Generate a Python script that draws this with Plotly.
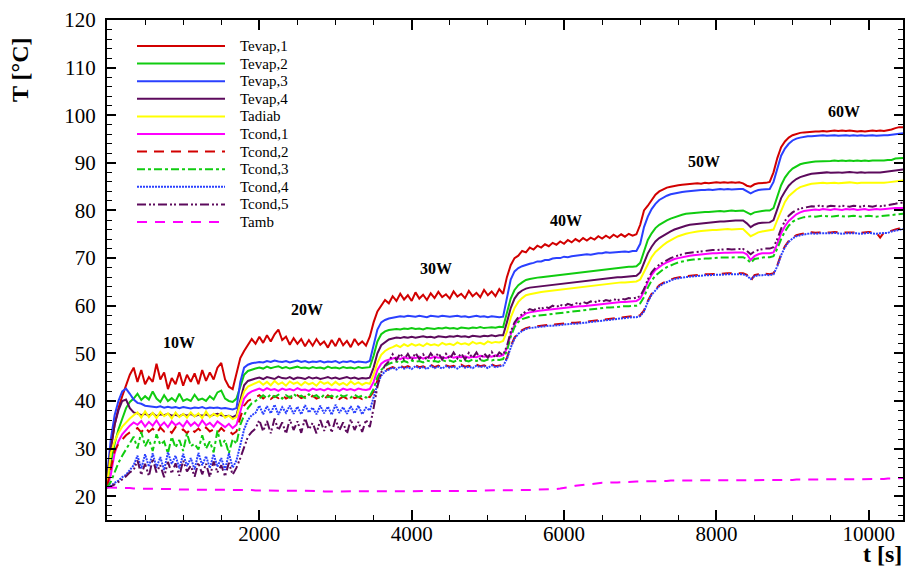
import plotly.graph_objects as go

# time grid [s]
t = list(range(0, 10500, 50))

tevap1 = [23.0, 30.0, 35.0, 38.5, 41.0, 43.5, 45.5, 47.0, 44.0, 46.5, 43.5, 45.0, 44.0, 47.8, 44.5, 46.0, 42.5, 44.8, 43.5, 46.0, 43.2, 45.5, 44.0, 45.8, 43.5, 46.5, 44.2, 46.0, 44.5, 47.0, 48.0, 44.5, 43.0, 42.5, 45.5,
          49.0, 50.5, 51.8, 53.0, 52.0, 53.5, 52.2, 53.8, 52.5, 54.0, 55.0, 52.8, 53.5, 51.8, 53.2, 52.0, 53.0, 51.5, 52.8, 51.6, 53.0, 51.8, 52.5, 51.2, 52.8, 51.5, 53.2, 51.7, 52.6, 51.3, 53.0, 51.8, 52.5, 51.6, 53.5,
          56.5, 58.8, 60.0, 61.2, 60.5, 62.0, 61.0, 62.5, 61.3, 62.2, 61.0, 62.8, 61.5, 62.3, 61.2, 62.6, 61.6, 62.9, 61.8, 62.4, 61.5, 63.0, 61.9, 62.5, 61.6, 63.1, 62.0, 62.7, 61.8, 63.3, 62.2, 63.0, 62.0, 63.5, 62.5,
          66.0, 68.5, 70.0, 70.5, 71.5, 71.2, 72.2, 71.8, 72.6, 72.2, 72.9, 72.5, 73.2, 72.8, 73.5, 73.0, 73.8, 73.3, 74.0, 73.5, 74.2, 73.7, 74.3, 73.9, 74.6, 74.1, 74.7, 74.2, 74.9, 74.4, 75.0, 74.5, 75.1, 74.7, 75.0,
          77.0, 80.0, 81.0, 82.3, 83.3, 84.0, 84.4, 84.8, 85.0, 85.2, 85.3, 85.4, 85.5, 85.5, 85.6, 85.7, 85.6, 85.8, 85.7, 85.8, 85.9, 85.8, 85.9, 85.8, 85.9, 85.8, 85.9, 85.7, 85.2, 85.0, 85.5, 85.7, 85.7, 85.8, 86.0,
          88.0, 91.0, 93.3, 94.5, 95.3, 95.8, 96.1, 96.3, 96.4, 96.5, 96.5, 96.6, 96.6, 96.7, 96.6, 96.7, 96.8, 96.7, 96.8, 96.7, 96.8, 96.7, 96.6, 96.7, 96.6, 96.7, 96.8, 96.7, 96.8, 96.7, 96.8, 97.0, 97.3, 97.5, 97.5]

tevap2 = [22.5, 27.0, 31.0, 34.0, 36.5, 38.5, 39.8, 40.5, 41.5, 40.2, 41.0, 40.3, 42.0, 40.5, 39.8, 41.2, 40.0, 40.6, 39.9, 41.5, 40.0, 40.4, 40.0, 41.3, 40.2, 40.5, 40.0, 41.0, 40.3, 41.8, 42.2, 40.5, 40.0, 39.8, 40.5,
          43.0, 45.5, 46.3, 46.6, 46.8, 47.0, 46.8, 47.2, 46.9, 47.1, 47.3, 46.9, 47.1, 46.8, 47.0, 47.2, 46.9, 47.0, 46.8, 47.1, 46.9, 47.0, 46.8, 47.2, 46.9, 47.0, 46.8, 47.1, 46.9, 47.0, 46.8, 47.1, 46.9, 47.0, 47.1,
          49.5, 52.5, 54.0, 54.6, 54.9, 55.0, 55.1, 55.0, 55.2, 55.1, 55.3, 55.1, 55.2, 55.0, 55.3, 55.2, 55.1, 55.3, 55.2, 55.4, 55.2, 55.3, 55.1, 55.4, 55.3, 55.2, 55.4, 55.3, 55.5, 55.3, 55.4, 55.5, 55.4, 55.6, 55.5,
          58.5, 61.5, 63.3, 64.3, 64.9, 65.4, 65.6, 65.8, 65.9, 66.0, 66.1, 66.2, 66.3, 66.4, 66.5, 66.6, 66.7, 66.8, 66.9, 67.0, 67.1, 67.2, 67.3, 67.4, 67.5, 67.6, 67.7, 67.8, 67.8, 67.9, 68.0, 68.1, 68.2, 68.2, 68.3,
          69.0, 71.5, 73.8, 75.2, 76.3, 77.0, 77.5, 77.9, 78.3, 78.6, 78.9, 79.1, 79.3, 79.4, 79.5, 79.6, 79.6, 79.7, 79.7, 79.8, 79.8, 79.9, 79.8, 79.9, 80.0, 79.9, 80.0, 80.0, 79.6, 79.2, 79.6, 79.8, 79.9, 80.0, 80.0,
          80.5, 83.0, 85.3, 86.9, 88.0, 88.8, 89.3, 89.7, 89.9, 90.1, 90.2, 90.3, 90.3, 90.4, 90.3, 90.4, 90.5, 90.4, 90.5, 90.4, 90.5, 90.4, 90.5, 90.4, 90.5, 90.4, 90.5, 90.5, 90.4, 90.5, 90.6, 90.6, 90.9, 91.0, 91.0]

tevap3 = [24.0, 32.0, 37.0, 40.0, 42.0, 42.6, 41.5, 40.3, 39.6, 39.4, 39.0, 38.9, 38.8, 38.7, 38.9, 38.6, 38.8, 38.6, 38.7, 38.5, 38.7, 38.6, 38.4, 38.6, 38.5, 38.7, 38.4, 38.6, 38.5, 38.6, 38.4, 38.5, 38.3, 38.2, 38.5,
          44.0, 47.0, 47.6, 47.9, 48.0, 48.2, 48.1, 48.4, 48.2, 48.5, 48.3, 48.2, 48.4, 48.1, 48.3, 48.5, 48.2, 48.4, 48.1, 48.3, 48.2, 48.4, 48.1, 48.3, 48.2, 48.4, 48.0, 48.3, 48.2, 48.4, 48.1, 48.3, 48.2, 48.1, 48.4,
          51.5, 55.0, 56.5, 57.0, 57.3, 57.5, 57.6, 57.8, 57.7, 57.9, 57.8, 57.7, 57.9, 57.8, 57.6, 57.9, 57.8, 57.7, 57.9, 57.8, 57.7, 57.8, 57.9, 57.7, 57.8, 57.6, 57.8, 57.9, 57.7, 57.8, 57.6, 57.8, 57.7, 57.6, 57.7,
          62.0, 65.5, 67.2, 67.9, 68.3, 68.6, 68.8, 69.0, 69.3, 69.3, 69.6, 69.6, 69.9, 70.0, 70.0, 70.3, 70.2, 70.4, 70.5, 70.5, 70.7, 70.8, 70.7, 70.9, 71.0, 71.0, 71.2, 71.1, 71.2, 71.3, 71.3, 71.4, 71.3, 71.5, 71.5,
          73.0, 76.5, 78.7, 80.3, 81.4, 82.2, 82.7, 83.1, 83.4, 83.6, 83.8, 83.9, 84.0, 84.1, 84.2, 84.2, 84.3, 84.3, 84.4, 84.3, 84.4, 84.5, 84.4, 84.5, 84.4, 84.5, 84.5, 84.5, 84.0, 83.6, 84.0, 84.3, 84.4, 84.4, 84.5,
          86.0, 89.0, 91.5, 93.0, 94.0, 94.7, 95.1, 95.3, 95.5, 95.6, 95.6, 95.7, 95.7, 95.8, 95.7, 95.8, 95.8, 95.7, 95.8, 95.8, 95.7, 95.8, 95.7, 95.8, 95.7, 95.8, 95.8, 95.7, 95.8, 95.8, 95.8, 95.9, 96.1, 96.2, 96.2]

tevap4 = [23.0, 30.0, 35.0, 38.0, 40.0, 40.3, 38.5, 37.6, 37.4, 37.0, 37.3, 36.9, 37.4, 36.8, 37.2, 37.0, 37.3, 36.9, 37.1, 36.8, 37.2, 36.9, 37.3, 36.8, 37.1, 36.9, 37.2, 36.8, 37.1, 37.3, 37.0, 36.8, 36.9, 36.6, 37.0,
          40.5, 43.3, 44.2, 44.5, 44.7, 44.9, 44.6, 45.0, 44.8, 44.6, 45.1, 44.8, 44.7, 45.0, 44.6, 44.9, 44.8, 44.6, 45.0, 44.7, 44.9, 44.6, 44.8, 45.0, 44.7, 44.9, 44.6, 44.8, 45.0, 44.7, 44.9, 44.6, 44.8, 44.7, 44.9,
          47.0, 50.0, 51.7, 52.4, 52.9, 53.1, 53.3, 53.2, 53.4, 53.3, 53.5, 53.3, 53.4, 53.6, 53.4, 53.5, 53.3, 53.6, 53.5, 53.4, 53.6, 53.5, 53.7, 53.5, 53.6, 53.4, 53.7, 53.6, 53.5, 53.7, 53.6, 53.8, 53.6, 53.8, 53.8,
          56.5, 59.5, 61.5, 62.6, 63.2, 63.6, 63.8, 63.9, 64.0, 64.1, 64.2, 64.3, 64.4, 64.5, 64.6, 64.7, 64.8, 64.9, 65.0, 65.1, 65.2, 65.3, 65.4, 65.5, 65.6, 65.7, 65.7, 65.8, 65.9, 66.0, 66.0, 66.1, 66.2, 66.2, 66.3,
          67.0, 69.0, 71.0, 72.4, 73.5, 74.2, 74.7, 75.2, 75.6, 76.0, 76.3, 76.6, 76.8, 77.0, 77.1, 77.2, 77.3, 77.4, 77.5, 77.5, 77.6, 77.7, 77.7, 77.8, 77.8, 77.9, 77.9, 77.9, 77.3, 76.5, 77.0, 77.3, 77.4, 77.5, 77.5,
          78.0, 80.5, 82.6, 84.0, 85.2, 86.0, 86.6, 87.0, 87.3, 87.5, 87.7, 87.8, 87.9, 87.9, 88.0, 87.9, 88.0, 88.0, 87.9, 88.0, 88.1, 88.0, 87.9, 88.0, 87.9, 88.0, 88.0, 87.9, 88.0, 88.1, 88.2, 88.3, 88.5, 88.6, 88.6]

tadiab = [22.0, 29.0, 31.5, 33.3, 34.6, 35.5, 36.3, 37.0, 37.6, 36.5, 37.8, 36.6, 37.5, 36.4, 37.7, 36.8, 37.4, 36.3, 37.6, 36.6, 37.3, 36.5, 37.6, 36.7, 37.4, 36.4, 37.8, 36.6, 37.3, 36.8, 37.5, 36.5, 36.9, 36.2, 36.6,
          39.5, 42.0, 43.0, 43.4, 43.7, 44.1, 43.4, 44.0, 43.3, 44.2, 43.5, 43.9, 43.2, 44.1, 43.6, 43.9, 43.3, 44.0, 43.5, 43.8, 43.2, 44.1, 43.6, 43.9, 43.3, 44.0, 43.4, 43.8, 43.3, 44.1, 43.5, 43.9, 43.4, 43.8, 43.6,
          45.5, 48.0, 49.7, 50.5, 51.0, 51.3, 51.7, 51.3, 51.9, 51.5, 52.0, 51.6, 51.9, 51.5, 52.1, 51.7, 51.9, 51.6, 52.2, 51.8, 52.0, 51.7, 52.3, 51.9, 52.1, 51.8, 52.4, 52.0, 52.2, 51.9, 52.5, 52.2, 52.4, 52.3, 52.6,
          54.5, 57.5, 59.5, 60.8, 61.6, 62.2, 62.4, 62.6, 62.7, 62.9, 63.0, 63.1, 63.2, 63.3, 63.4, 63.5, 63.6, 63.7, 63.8, 63.9, 64.0, 64.1, 64.2, 64.3, 64.4, 64.5, 64.6, 64.6, 64.7, 64.8, 64.9, 64.9, 65.0, 65.1, 65.1,
          65.5, 67.0, 68.8, 70.2, 71.3, 72.1, 72.7, 73.3, 73.8, 74.2, 74.6, 74.9, 75.1, 75.3, 75.5, 75.6, 75.7, 75.8, 75.8, 75.9, 75.9, 76.0, 76.0, 76.1, 76.0, 76.1, 76.1, 76.1, 75.3, 74.6, 75.0, 75.4, 75.6, 75.7, 75.8,
          76.0, 78.0, 80.0, 81.8, 83.0, 83.8, 84.4, 84.9, 85.2, 85.4, 85.6, 85.7, 85.7, 85.8, 85.7, 85.8, 85.8, 85.7, 85.8, 85.8, 85.9, 85.8, 85.7, 85.8, 85.8, 85.7, 85.8, 85.8, 85.7, 85.8, 85.9, 86.0, 86.2, 86.3, 86.3]

tcond1 = [21.8, 24.5, 29.0, 31.5, 33.0, 34.0, 34.8, 35.5, 35.0, 35.8, 34.6, 35.6, 34.8, 35.9, 34.7, 35.5, 34.5, 35.7, 34.9, 35.4, 34.6, 35.8, 34.8, 35.5, 34.7, 35.9, 34.9, 35.4, 34.6, 35.7, 35.0, 34.5, 35.2, 34.3, 35.0,
          38.0, 40.5, 41.5, 42.0, 42.3, 42.6, 42.2, 42.7, 42.3, 42.5, 42.1, 42.6, 42.3, 42.5, 42.2, 42.7, 42.3, 42.4, 42.1, 42.6, 42.3, 42.5, 42.2, 42.6, 42.3, 42.4, 42.1, 42.6, 42.3, 42.5, 42.2, 42.6, 42.4, 42.3, 42.5,
          44.0, 46.5, 47.8, 48.4, 48.7, 48.9, 49.1, 48.8, 49.2, 48.9, 49.1, 49.0, 49.3, 48.9, 49.2, 49.0, 49.3, 49.1, 49.2, 49.0, 49.4, 49.1, 49.3, 49.2, 49.4, 49.1, 49.3, 49.2, 49.5, 49.3, 49.4, 49.3, 49.6, 49.4, 49.6,
          51.0, 54.0, 56.0, 57.2, 57.9, 58.4, 58.6, 58.8, 58.9, 59.0, 59.1, 59.2, 59.3, 59.3, 59.4, 59.5, 59.6, 59.7, 59.8, 59.9, 59.9, 60.0, 60.1, 60.2, 60.3, 60.4, 60.5, 60.5, 60.6, 60.7, 60.8, 60.8, 60.9, 61.0, 61.0,
          61.5, 63.0, 65.0, 66.5, 67.5, 68.2, 68.7, 69.1, 69.5, 69.8, 70.0, 70.2, 70.4, 70.5, 70.6, 70.7, 70.8, 70.8, 70.9, 71.0, 71.0, 71.1, 71.1, 71.1, 71.2, 71.2, 71.2, 71.2, 70.8, 69.6, 70.4, 70.8, 71.0, 71.0, 71.0,
          71.2, 73.0, 75.2, 76.7, 77.8, 78.6, 79.2, 79.6, 79.9, 80.0, 80.1, 80.2, 80.1, 80.3, 80.2, 80.1, 80.3, 80.2, 80.1, 80.3, 80.2, 80.3, 80.1, 80.2, 80.3, 80.1, 80.2, 80.3, 80.2, 80.3, 80.3, 80.4, 80.5, 80.5, 80.5]

tcond2 = [22.0, 26.0, 29.5, 31.0, 32.0, 32.8, 33.4, 33.8, 34.3, 33.4, 34.5, 33.5, 34.2, 33.2, 34.4, 33.6, 34.1, 33.3, 34.5, 33.7, 34.0, 33.2, 34.3, 33.5, 34.2, 33.4, 34.4, 33.6, 34.0, 33.3, 34.3, 33.5, 33.8, 33.0, 33.6,
          36.5, 39.0, 40.0, 40.4, 40.8, 41.2, 40.5, 41.1, 40.4, 41.0, 40.6, 41.3, 40.5, 40.9, 40.3, 41.2, 40.6, 40.9, 40.4, 41.1, 40.5, 40.8, 40.3, 41.2, 40.6, 41.0, 40.4, 40.9, 40.5, 41.1, 40.6, 40.8, 40.4, 41.0, 40.8,
          42.0, 44.3, 45.7, 46.4, 46.8, 47.1, 46.8, 47.4, 47.0, 47.3, 46.9, 47.5, 47.1, 47.3, 46.9, 47.6, 47.1, 47.4, 47.0, 47.5, 47.2, 47.4, 47.0, 47.6, 47.2, 47.4, 47.1, 47.6, 47.3, 47.5, 47.1, 47.7, 47.3, 47.5, 47.6,
          49.0, 51.5, 53.3, 54.3, 54.9, 55.3, 55.5, 55.6, 55.8, 55.8, 55.9, 56.0, 56.0, 56.1, 56.2, 56.2, 56.3, 56.4, 56.4, 56.5, 56.6, 56.7, 56.8, 56.9, 57.0, 57.1, 57.2, 57.3, 57.4, 57.5, 57.5, 57.6, 57.7, 57.8, 57.8,
          58.0, 59.0, 61.0, 62.5, 63.5, 64.3, 64.8, 65.2, 65.5, 65.8, 66.0, 66.1, 66.2, 66.3, 66.4, 66.5, 66.5, 66.6, 66.6, 66.7, 66.7, 66.7, 66.8, 66.8, 66.8, 66.8, 66.9, 66.8, 66.5, 65.2, 66.4, 66.6, 66.6, 66.7, 66.6,
          66.8, 68.5, 70.8, 72.5, 73.6, 74.3, 74.8, 75.0, 75.2, 75.3, 75.4, 75.3, 75.4, 75.4, 75.3, 75.4, 75.5, 75.4, 75.3, 75.4, 75.4, 75.5, 75.4, 75.3, 75.4, 75.5, 75.4, 75.3, 74.3, 75.4, 75.5, 75.8, 76.0, 76.2, 76.3]

tcond3 = [21.8, 23.0, 25.0, 27.0, 28.5, 29.8, 31.0, 32.5, 30.0, 33.5, 30.5, 32.0, 29.5, 33.0, 30.8, 31.5, 29.0, 32.5, 30.2, 31.8, 29.5, 33.2, 30.5, 31.0, 29.8, 32.8, 30.0, 31.5, 29.2, 33.8, 30.5, 31.8, 29.0, 32.0, 31.0,
          35.0, 37.0, 38.5, 39.5, 40.0, 40.5, 41.2, 40.6, 41.4, 40.8, 41.3, 40.5, 41.2, 40.7, 41.5, 40.8, 41.1, 40.6, 41.4, 40.9, 41.2, 40.5, 41.3, 40.8, 41.1, 40.6, 41.4, 40.9, 41.2, 40.7, 41.3, 40.8, 41.1, 40.7, 41.0,
          42.5, 45.0, 46.5, 47.3, 47.8, 48.1, 48.3, 48.0, 48.4, 48.1, 48.5, 48.2, 48.4, 48.1, 48.5, 48.3, 48.4, 48.2, 48.6, 48.3, 48.5, 48.2, 48.6, 48.4, 48.5, 48.3, 48.7, 48.4, 48.6, 48.4, 48.7, 48.5, 48.7, 48.6, 48.8,
          50.5, 53.5, 55.5, 56.6, 57.2, 57.5, 57.7, 57.8, 57.9, 58.0, 58.1, 58.2, 58.3, 58.4, 58.5, 58.6, 58.7, 58.8, 58.9, 59.0, 59.1, 59.2, 59.3, 59.4, 59.4, 59.5, 59.6, 59.6, 59.7, 59.8, 59.8, 59.9, 59.9, 60.0, 60.0,
          60.5, 61.8, 63.8, 65.3, 66.3, 67.0, 67.6, 68.1, 68.5, 68.8, 69.1, 69.3, 69.5, 69.6, 69.7, 69.8, 69.8, 69.9, 69.9, 70.0, 70.0, 70.1, 70.1, 70.1, 70.2, 70.2, 70.2, 70.2, 69.8, 69.0, 69.8, 70.0, 70.1, 70.2, 70.2,
          70.4, 72.0, 74.0, 75.6, 76.8, 77.6, 78.1, 78.4, 78.6, 78.7, 78.8, 78.7, 78.8, 78.9, 78.8, 78.7, 78.8, 78.9, 78.8, 78.7, 78.8, 78.9, 78.8, 78.7, 78.8, 78.9, 78.8, 78.7, 78.8, 78.9, 78.9, 79.0, 79.2, 79.3, 79.3]

tcond4 = [21.8, 22.2, 22.8, 23.3, 24.0, 24.5, 25.5, 26.5, 28.5, 25.8, 28.8, 26.2, 29.0, 26.0, 28.2, 25.5, 29.2, 26.8, 28.5, 25.8, 28.9, 26.3, 28.0, 25.6, 29.1, 26.5, 28.4, 25.9, 28.8, 26.2, 28.0, 25.5, 29.0, 26.0, 27.5,
          31.0, 34.0, 36.0, 37.0, 37.5, 39.0, 37.2, 38.9, 37.4, 39.2, 37.1, 38.7, 37.5, 39.0, 37.3, 38.8, 37.2, 39.1, 37.6, 38.6, 37.2, 39.0, 37.4, 38.8, 37.1, 39.2, 37.5, 38.7, 37.3, 38.9, 37.4, 39.0, 37.2, 38.6, 38.0,
          40.5, 43.5, 45.3, 46.2, 46.6, 47.0, 46.6, 47.2, 46.8, 47.1, 46.7, 47.3, 46.9, 47.1, 46.7, 47.4, 46.9, 47.2, 46.8, 47.3, 47.0, 47.2, 46.8, 47.4, 47.0, 47.2, 46.9, 47.4, 47.1, 47.3, 46.9, 47.5, 47.1, 47.3, 47.4,
          48.8, 51.2, 53.1, 54.1, 54.7, 55.1, 55.3, 55.4, 55.6, 55.6, 55.7, 55.8, 55.8, 55.9, 56.0, 56.0, 56.1, 56.2, 56.2, 56.3, 56.4, 56.5, 56.6, 56.7, 56.8, 56.9, 57.0, 57.1, 57.2, 57.3, 57.3, 57.4, 57.5, 57.6, 57.6,
          57.8, 58.8, 60.8, 62.3, 63.3, 64.1, 64.6, 65.0, 65.3, 65.6, 65.8, 65.9, 66.0, 66.1, 66.2, 66.3, 66.3, 66.4, 66.4, 66.5, 66.5, 66.5, 66.6, 66.6, 66.6, 66.6, 66.7, 66.6, 66.3, 65.6, 66.2, 66.4, 66.4, 66.5, 66.4,
          66.6, 68.3, 70.6, 72.3, 73.4, 74.1, 74.6, 74.8, 75.0, 75.1, 75.2, 75.1, 75.2, 75.2, 75.1, 75.2, 75.3, 75.2, 75.1, 75.2, 75.2, 75.3, 75.2, 75.1, 75.2, 75.3, 75.2, 75.1, 75.2, 75.2, 75.3, 75.6, 75.8, 76.0, 76.1]

tcond5 = [21.8, 22.0, 22.5, 23.0, 23.5, 24.2, 25.0, 25.5, 27.5, 24.5, 26.8, 24.2, 27.8, 25.0, 26.5, 24.0, 27.2, 24.8, 26.9, 24.3, 27.5, 25.2, 26.4, 24.1, 27.0, 24.6, 26.8, 24.0, 27.3, 25.0, 26.5, 24.2, 27.0, 24.5, 26.0,
          28.0, 30.5, 32.5, 33.5, 34.2, 36.0, 33.6, 35.8, 33.2, 36.3, 33.8, 35.5, 33.1, 36.1, 33.9, 35.7, 33.3, 36.4, 34.0, 35.4, 33.2, 36.0, 33.7, 35.9, 33.4, 36.2, 33.8, 35.5, 33.1, 36.1, 33.9, 35.6, 33.5, 36.0, 34.5,
          38.5, 43.0, 46.0, 47.5, 48.3, 49.8, 48.6, 50.0, 48.7, 49.9, 48.5, 50.1, 48.8, 49.8, 48.6, 50.0, 48.9, 50.1, 48.7, 49.9, 48.8, 50.2, 48.9, 50.0, 48.7, 50.1, 49.0, 50.2, 48.8, 50.0, 49.1, 50.3, 49.0, 50.2, 49.6,
          51.5, 54.5, 56.5, 57.6, 58.3, 58.8, 59.3, 59.0, 59.6, 59.3, 59.8, 59.5, 60.0, 59.7, 60.2, 59.9, 60.4, 60.1, 60.6, 60.3, 60.8, 60.5, 60.9, 60.7, 61.1, 60.8, 61.2, 61.0, 61.4, 61.1, 61.5, 61.3, 61.6, 61.5, 61.7,
          62.0, 63.5, 65.5, 67.0, 68.0, 68.6, 69.1, 69.6, 70.0, 70.3, 70.6, 70.8, 71.0, 71.1, 71.3, 71.4, 71.5, 71.5, 71.6, 71.7, 71.7, 71.8, 71.8, 71.9, 71.8, 71.9, 71.9, 71.9, 71.5, 70.8, 71.4, 71.7, 71.9, 72.0, 72.0,
          72.3, 74.0, 76.2, 77.8, 78.9, 79.6, 80.1, 80.4, 80.6, 80.8, 80.9, 80.8, 81.0, 80.9, 80.8, 81.0, 80.9, 80.8, 81.0, 80.9, 80.8, 81.0, 80.9, 80.8, 81.0, 80.9, 80.8, 81.0, 80.9, 81.0, 81.1, 81.2, 81.4, 81.6, 81.6]

tamb = [21.8, 21.8, 21.8, 21.7, 21.7, 21.7, 21.7, 21.6, 21.6, 21.6, 21.6, 21.6, 21.5, 21.5, 21.5, 21.5, 21.5, 21.5, 21.5, 21.4, 21.4, 21.4, 21.4, 21.4, 21.4, 21.4, 21.4, 21.3, 21.3, 21.3, 21.3, 21.3, 21.3, 21.3, 21.3,
        21.3, 21.3, 21.3, 21.3, 21.2, 21.2, 21.2, 21.2, 21.2, 21.2, 21.2, 21.2, 21.1, 21.1, 21.1, 21.1, 21.1, 21.1, 21.1, 21.1, 21.1, 21.1, 21.0, 21.0, 21.0, 21.0, 21.0, 21.0, 21.0, 21.0, 21.0, 21.0, 21.0, 21.0, 21.0,
        21.0, 21.0, 21.0, 21.0, 21.0, 21.0, 21.0, 21.0, 21.0, 21.0, 21.0, 21.0, 21.0, 21.0, 21.0, 21.0, 21.0, 21.0, 21.0, 21.0, 21.1, 21.1, 21.1, 21.1, 21.1, 21.1, 21.1, 21.1, 21.2, 21.2, 21.2, 21.2, 21.2, 21.3, 21.3,
        21.3, 21.3, 21.3, 21.3, 21.3, 21.3, 21.3, 21.3, 21.4, 21.4, 21.4, 21.4, 21.5, 21.5, 21.6, 21.7, 21.9, 22.0, 22.2, 22.3, 22.4, 22.5, 22.6, 22.6, 22.7, 22.8, 22.8, 22.9, 22.9, 22.9, 23.0, 23.0, 23.0, 23.1, 23.1,
        23.1, 23.1, 23.1, 23.2, 23.2, 23.2, 23.2, 23.2, 23.3, 23.3, 23.3, 23.3, 23.3, 23.3, 23.3, 23.3, 23.4, 23.4, 23.4, 23.4, 23.4, 23.4, 23.4, 23.4, 23.4, 23.4, 23.4, 23.4, 23.4, 23.4, 23.4, 23.4, 23.4, 23.4, 23.4,
        23.4, 23.4, 23.4, 23.4, 23.4, 23.4, 23.5, 23.5, 23.5, 23.5, 23.5, 23.5, 23.5, 23.5, 23.5, 23.5, 23.5, 23.5, 23.5, 23.5, 23.5, 23.5, 23.5, 23.5, 23.6, 23.6, 23.6, 23.6, 23.6, 23.6, 23.7, 23.7, 23.8, 23.8, 23.8]

names = ["Tevap,1", "Tevap,2", "Tevap,3", "Tevap,4", "Tadiab",
         "Tcond,1", "Tcond,2", "Tcond,3", "Tcond,4", "Tcond,5", "Tamb"]
series = [tevap1, tevap2, tevap3, tevap4, tadiab,
          tcond1, tcond2, tcond3, tcond4, tcond5, tamb]

power_labels = ["10W", "20W", "30W", "40W", "50W", "60W"]
power_t = [950, 2630, 4320, 6030, 7840, 9670]
power_T = [52.3, 59.2, 67.8, 77.9, 90.2, 100.7]

x_ticks = [2000, 4000, 6000, 8000, 10000]
y_ticks = [20, 30, 40, 50, 60, 70, 80, 90, 100, 110, 120]

# styles
RED, GREEN, BLUE, PURPLE, YELLOW, MAGENTA = "#d20000", "#10cc10", "#2a40ff", "#5c0a5c", "#ffff00", "#ff00ff"
colors = [RED, GREEN, BLUE, PURPLE, YELLOW, MAGENTA, RED, GREEN, BLUE, PURPLE, MAGENTA]
dashes = ["solid", "solid", "solid", "solid", "solid", "solid",
          "10px,7px", "8px,3px,3px,3px", "2px,1px", "9px,3px,2px,2px,2px,3px", "10px,8px"]

SERIF = "Liberation Serif"

fig = go.Figure()
for name, y, c, d in zip(names, series, colors, dashes):
    n = min(len(t), len(y))
    fig.add_trace(go.Scatter(x=t[:n], y=y[:n], mode="lines", name=name,
                             line=dict(color=c, width=2, dash=d), showlegend=False))

# plot-area geometry (px) for placing the hand-built legend
W, H = 906, 569
L, R, TOP, B = 107, 3, 20, 49
pw, ph = W - L - R, H - TOP - B


def px_x(x):
    return (x - L) / pw


def px_y(y):
    return 1 - (y - TOP) / ph


shapes = []
annotations = []
for k, (name, c, d) in enumerate(zip(names, colors, dashes)):
    yy = 46 + 17.6 * k
    shapes.append(dict(type="line", xref="paper", yref="paper",
                       x0=px_x(137), x1=px_x(225), y0=px_y(yy), y1=px_y(yy),
                       line=dict(color=c, width=2, dash=d)))
    annotations.append(dict(text=name, xref="paper", yref="paper", x=px_x(238), y=px_y(yy),
                            xanchor="left", yanchor="middle", showarrow=False,
                            font=dict(family=SERIF, size=15, color="black")))

for lab, xt, yt in zip(power_labels, power_t, power_T):
    annotations.append(dict(text="<b>%s</b>" % lab, x=xt, y=yt, xref="x", yref="y",
                            showarrow=False, font=dict(family=SERIF, size=16, color="black")))

annotations.append(dict(text="<b>T [°C]</b>", xref="paper", yref="paper", x=px_x(20), y=px_y(70),
                        textangle=-90, showarrow=False, xanchor="center", yanchor="middle",
                        font=dict(family=SERIF, size=24, color="black")))
annotations.append(dict(text="<b>t [s]</b>", xref="paper", yref="paper", x=px_x(904), y=px_y(569),
                        showarrow=False, xanchor="right", yanchor="bottom",
                        font=dict(family=SERIF, size=24, color="black")))

fig.update_layout(
    width=W, height=H,
    margin=dict(l=L, r=R, t=TOP, b=B, pad=0, autoexpand=False),
    paper_bgcolor="white", plot_bgcolor="white",
    shapes=shapes, annotations=annotations,
    showlegend=False,
)
fig.update_xaxes(range=[0, 10450], tickvals=x_ticks, ticktext=[str(v) for v in x_ticks],
                 automargin=False,
                 ticks="inside", ticklen=10, tickwidth=2, tickcolor="black",
                 minor=dict(dtick=500, tick0=0, ticks="inside", ticklen=5, tickwidth=1, tickcolor="black"),
                 showline=True, linewidth=2, linecolor="black", mirror="ticks",
                 showgrid=False, zeroline=False,
                 tickfont=dict(family=SERIF, size=21, color="black"), ticklabelstandoff=-6)
fig.update_yaxes(range=[15, 120], tickvals=y_ticks, ticktext=[str(v) for v in y_ticks],
                 automargin=False,
                 ticks="inside", ticklen=9, tickwidth=2, tickcolor="black",
                 minor=dict(dtick=2, tick0=0, ticks="inside", ticklen=5, tickwidth=1, tickcolor="black"),
                 showline=True, linewidth=2, linecolor="black", mirror="ticks",
                 showgrid=False, zeroline=False,
                 tickfont=dict(family=SERIF, size=21, color="black"), ticklabelstandoff=5)

# remove the browser's default 8px page margin so the figure sits at the window origin
fig.write_html("out.html", config={"displayModeBar": False},
               post_script="document.body.style.margin='0px';")
